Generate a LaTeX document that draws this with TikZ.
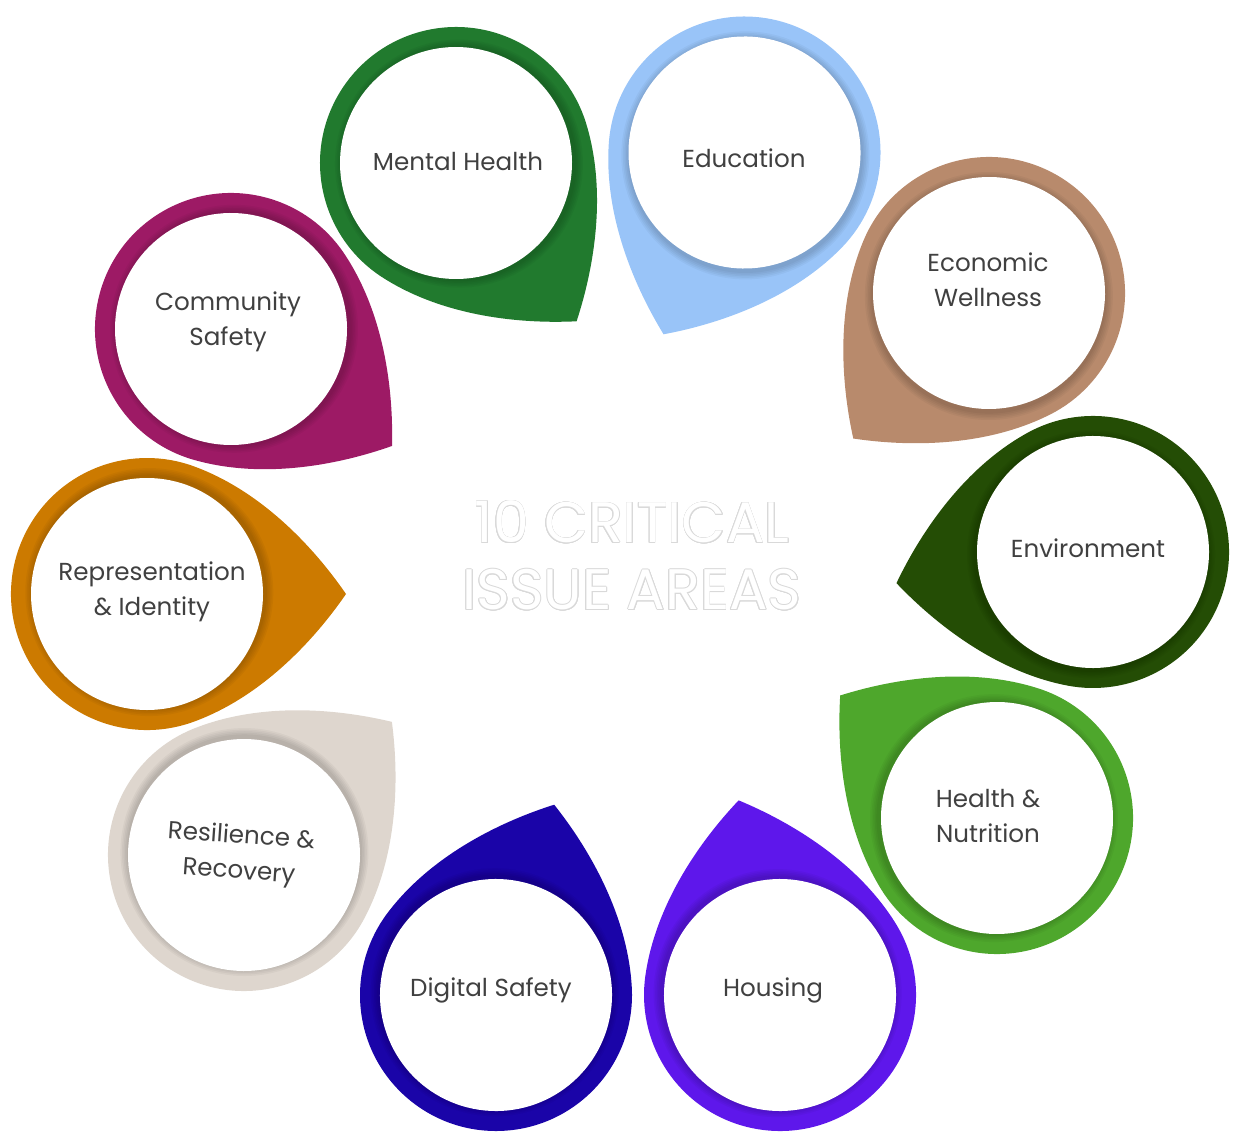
\documentclass[tikz,border=0pt]{standalone}
\usepackage{fontspec}
\setmainfont{Poppins}
\usepackage{xcolor}
\usepackage{contour}
\usepackage{tikz}
\usetikzlibrary{positioning}

\definecolor{cMental}{HTML}{217A2E}
\definecolor{cEdu}{HTML}{99C4F8}
\definecolor{cEcon}{HTML}{B88A6C}
\definecolor{cEnv}{HTML}{244D05}
\definecolor{cHealth}{HTML}{4EA72C}
\definecolor{cHousing}{HTML}{5E17EB}
\definecolor{cDigital}{HTML}{1A04A8}
\definecolor{cResil}{HTML}{DED6CE}
\definecolor{cRepr}{HTML}{CC7A00}
\definecolor{cCommun}{HTML}{9D1A65}
\definecolor{ink}{HTML}{404040}
\contourlength{0.45pt}

% one teardrop: centre x, centre y, direction of the tip, colour
\newcommand{\issuedrop}[4]{%
  \begin{scope}[shift={(#1,#2)}, rotate=#3]
    \fill[#4] (70:136) arc[start angle=70, end angle=290, radius=136]
      .. controls (112.3,-103.9) and (165,-49.4) .. (199,0)
      .. controls (165,49.4) and (112.3,103.9) .. cycle;
    \foreach \k in {1,...,5}
      \fill[black, opacity=0.035] (-40:3) circle[radius=116+\k*1.6];
    \fill[white] (0,0) circle[radius=116];
  \end{scope}}

\begin{document}
\begin{tikzpicture}[x=0.02cm, y=-0.02cm,
    issue/.style={text=ink, align=center, font=\fontsize{14}{20}\selectfont},
    title/.style={text=white, align=center, font=\fontsize{32.5}{38}\selectfont}
]
    \useasboundingbox (0,0) rectangle (1236,1148);

    % Teardrops
    \foreach \cx/\cy/\ang/\col in {456/163/-52.7/cMental, 744.5/152.5/-114/cEdu,
        989/293/-133/cEcon, 1093/552/-171/cEnv, 997/818/142/cHealth,
        780/995/102/cHousing, 496/995/73/cDigital, 244/855/42/cResil,
        147/594/0/cRepr, 231/329/-36/cCommun}
      \issuedrop{\cx}{\cy}{\ang}{\col};

    % Labels
    \node [issue] (mental) at (458,162) {Mental Health};
    \node [issue] (edu) at (744,158) {Education};
    \node [issue] (econ) at (988,280) {Economic\\Wellness};
    \node [issue] (env) at (1088,548) {Environment};
    \node [issue] (health) at (988,816) {Health \&\\Nutrition};
    \node [issue] (housing) at (773,990) {Housing};
    \node [issue] (digital) at (491,990) {Digital Safety};
    \node [issue, rotate=-4] (resil) at (240,855) {Resilience \&\\Recovery};
    \node [issue] (repr) at (152,592) {Representation\\\& Identity};
    \node [issue] (commun) at (228,322) {Community\\Safety};

    \node [title] (centre) at (632,556) {\contour{gray!30}{10 CRITICAL}\\\contour{gray!30}{ISSUE AREAS}};
\end{tikzpicture}
\end{document}
